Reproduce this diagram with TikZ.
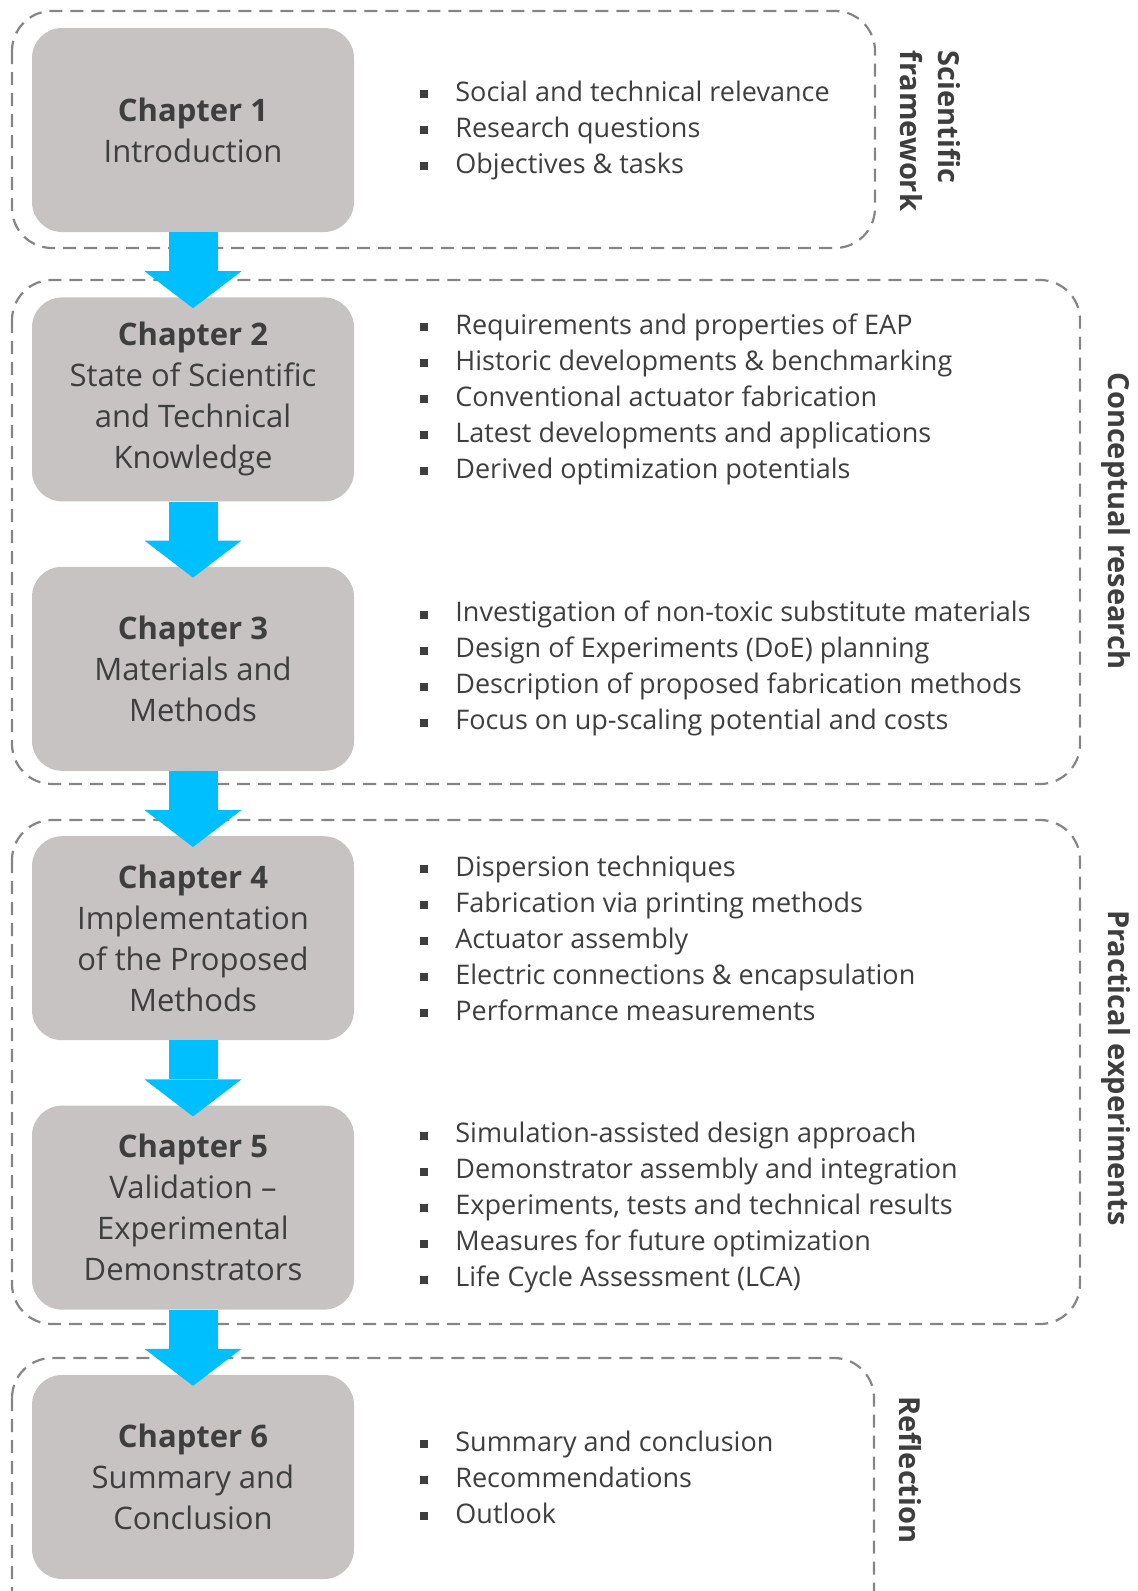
\documentclass[tikz,border=0pt]{standalone}
\usepackage{fontspec}
\setmainfont{Open Sans}
\usepackage{xcolor}
\usepackage{tikz}
\usetikzlibrary{positioning, arrows.meta, calc}
\definecolor{chapFill}{HTML}{C6C3C2}
\definecolor{flowBlue}{HTML}{00BFFF}
\definecolor{groupLine}{HTML}{858585}
\definecolor{bodyText}{HTML}{3E3E3E}
% square bullet in front of each point
\newcommand{\sqitem}{\makebox[35pt][l]{\rule[3pt]{8pt}{8pt}}}

\begin{document}
\begin{tikzpicture}[x=1pt, y=1pt,
    chap/.style={rectangle, rounded corners=30pt, fill=chapFill, minimum width=322pt,
                 minimum height=204pt, inner sep=0pt, align=center, text=bodyText,
                 font=\fontsize{31}{41}\selectfont},
    pts/.style={right=66pt of #1, align=left, inner sep=0pt, text=bodyText,
                font=\fontsize{27}{36}\selectfont},
    group/.style={draw=groupLine, line width=2.2pt, rounded corners=40pt,
                  dash pattern=on 13pt off 8pt},
    side/.style={rotate=-90, align=left, text=bodyText, font=\fontsize{29}{38}\selectfont\bfseries},
    flow/.style={draw=flowBlue, line width=49pt,
                 -{Triangle[length=37pt, width=97pt, line width=0pt]}}]
  \useasboundingbox (0,0) rectangle (1138,-1591);
  \clip (0,0) rectangle (1138,-1591);

  % dashed groups
  \draw[group] (12,-11) rectangle (875,-248);
  \draw[group] (12,-280) rectangle (1080,-784);
  \draw[group] (12,-820) rectangle (1080,-1324);
  \draw[group] (12,-1358) rectangle (874,-1650);

  % chapters
  \node[chap] (ch1) at (193,-130) {\textbf{Chapter 1}\\Introduction};
  \node[chap, below=65pt of ch1] (ch2) {\textbf{Chapter 2}\\State of Scientific\\and Technical\\Knowledge};
  \node[chap, below=65pt of ch2] (ch3) {\textbf{Chapter 3}\\Materials and\\Methods};
  \node[chap, below=65pt of ch3] (ch4) {\textbf{Chapter 4}\\Implementation\\of the Proposed\\Methods};
  \node[chap, below=65pt of ch4] (ch5) {\textbf{Chapter 5}\\Validation --\\Experimental\\Demonstrators};
  \node[chap, below=65pt of ch5] (ch6) {\textbf{Chapter 6}\\Summary and\\Conclusion};

  % points per chapter
  \node[pts=ch1] (pts1) {\sqitem Social and technical relevance\\
    \sqitem Research questions\\
    \sqitem Objectives \& tasks};
  \node[pts=ch2] (pts2) {\sqitem Requirements and properties of EAP\\
    \sqitem Historic developments \& benchmarking\\
    \sqitem Conventional actuator fabrication\\
    \sqitem Latest developments and applications\\
    \sqitem Derived optimization potentials};
  \node[pts=ch3] (pts3) {\sqitem Investigation of non-toxic substitute materials\\
    \sqitem Design of Experiments (DoE) planning\\
    \sqitem Description of proposed fabrication methods\\
    \sqitem Focus on up-scaling potential and costs};
  \node[pts=ch4] (pts4) {\sqitem Dispersion techniques\\
    \sqitem Fabrication via printing methods\\
    \sqitem Actuator assembly\\
    \sqitem Electric connections \& encapsulation\\
    \sqitem Performance measurements};
  \node[pts=ch5] (pts5) {\sqitem Simulation-assisted design approach\\
    \sqitem Demonstrator assembly and integration\\
    \sqitem Experiments, tests and technical results\\
    \sqitem Measures for future optimization\\
    \sqitem Life Cycle Assessment (LCA)};
  \node[pts=ch6] (pts6) {\sqitem Summary and conclusion\\
    \sqitem Recommendations\\
    \sqitem Outlook};

  % group labels
  \node[side] (lab1) at (930,-131) {Scientific\\framework};
  \node[side] (lab2) at (1116,-521) {Conceptual research};
  \node[side] (lab3) at (1116,-1068) {Practical experiments};
  \node[side] (lab4) at (910,-1470) {Reflection};

  % flow between chapters
  \foreach \a/\b in {ch1/ch2, ch2/ch3, ch3/ch4, ch4/ch5, ch5/ch6}
    \draw[flow] (\a.south) -- ([yshift=-11pt]\b.north);
\end{tikzpicture}
\end{document}
